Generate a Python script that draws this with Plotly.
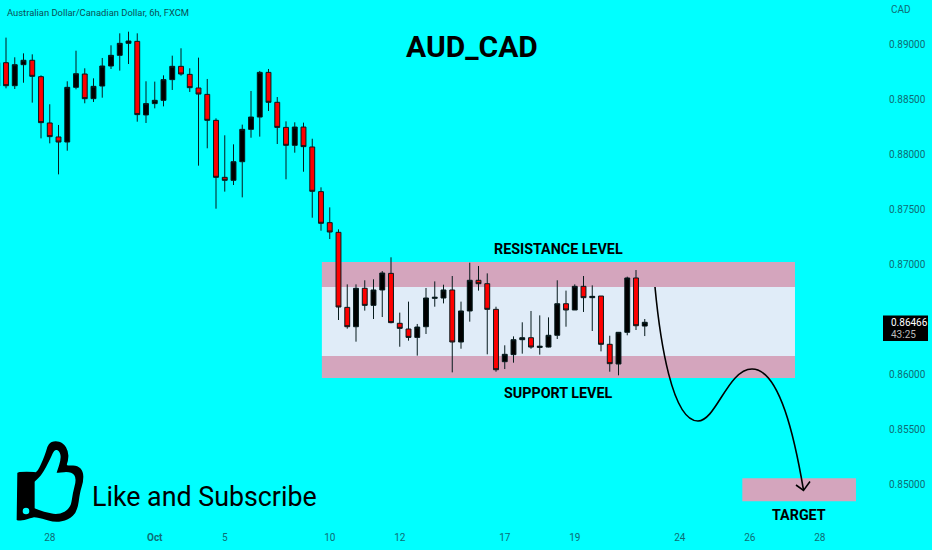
import plotly.graph_objects as go

opens = [.88618,.8883,.88621,.88812,.88852,.88703,.88282,.88155,.88109,.88606,.88727,.88503,.88618,.888,.88897,.89006,.89024,.88355,.88458,.88488,.88676,.88797,.88724,.886,.88542,.88306,.87788,.87761,.8793,.88224,.88336,.88742,.8847,.88242,.88079,.88245,.88064,.87658,.87376,.87288,.86606,.8643,.86779,.86624,.86764,.86915,.86461,.86409,.86333,.8643,.86688,.86691,.86764,.86291,.86573,.86852,.86821,.86588,.86112,.86176,.86312,.8633,.86242,.86245,.86352,.86639,.86582,.86797,.86694,.86709,.8627,.86091,.86379,.86873,.86436]
highs = [.88855,.89058,.88879,.88915,.88906,.88715,.88452,.88264,.88661,.88939,.88779,.88688,.88873,.88988,.89097,.89112,.89097,.88661,.88658,.88715,.88894,.88961,.88779,.88876,.88682,.88324,.8817,.88088,.88267,.88573,.88755,.88773,.88518,.88297,.88288,.88285,.88139,.87697,.87515,.87315,.86815,.86815,.86852,.86861,.86936,.87061,.86558,.86658,.86455,.86782,.86842,.86812,.86891,.86658,.87012,.86982,.86915,.86612,.86261,.86342,.8647,.86573,.86533,.86515,.86852,.86758,.86815,.86891,.86806,.86709,.86348,.86382,.86885,.86945,.865]
lows = [.88597,.88597,.88591,.88648,.88467,.88142,.88097,.87815,.8803,.88588,.88461,.88473,.88512,.88773,.88758,.88818,.88294,.88282,.88415,.88433,.88582,.88712,.88564,.87894,.88052,.87503,.87658,.87718,.87606,.88148,.88158,.88391,.88091,.8777,.88012,.87839,.87421,.87303,.87227,.86491,.86412,.86294,.86576,.865,.86518,.86461,.86248,.86303,.86167,.86364,.86612,.86642,.86015,.8623,.86476,.86758,.86179,.86021,.86045,.86103,.86185,.8623,.86176,.86242,.86318,.8643,.86582,.86564,.86391,.86206,.86021,.85988,.86352,.864,.86345]
closes = [.8883,.88621,.88812,.88852,.88706,.88285,.88158,.88109,.88606,.8873,.88503,.88615,.888,.88897,.89006,.89027,.88358,.88458,.88488,.88676,.88797,.88727,.88603,.88545,.88306,.87788,.87761,.8793,.88224,.88336,.88742,.8847,.88242,.88079,.88245,.88067,.87661,.8737,.87291,.86609,.8643,.86779,.86624,.86764,.86918,.86467,.86415,.86333,.86427,.86691,.86697,.86764,.86291,.86573,.86852,.86821,.86588,.86039,.86179,.86312,.8633,.86245,.86252,.86352,.86639,.86582,.86797,.86694,.86706,.8627,.86094,.86379,.86873,.86439,.8647]
bar_index = list(range(len(opens)))

x_tick_positions = [6, 18, 26, 38, 46, 58, 66, 78, 86, 94]
x_tick_labels = ["28", "<b>Oct</b>", "5", "10", "12", "17", "19", "24", "26", "28"]
y_tick_values = [0.85, 0.855, 0.86, 0.87, 0.875, 0.88, 0.885, 0.89]
y_tick_labels = ["0.85000", "0.85500", "0.86000", "0.87000", "0.87500", "0.88000", "0.88500", "0.89000"]

W, H = 932, 550
R, B = 44, 20
PW, PH = W - R, H - B
BG = "#00FFFF"
PINK = "#D4A5BD"
PALE = "#E0ECF8"
TEAL = "#0E6D75"
FONT = "Roboto"


def px(x):
    return x / PW


def py(y):
    return (PH - y) / PH


def smooth(points):
    """Closed quadratic B-spline through midpoints, given pixel points."""
    pts = [(px(a), py(b)) for a, b in points]
    n = len(pts)
    mid = lambda p, q: ((p[0] + q[0]) / 2, (p[1] + q[1]) / 2)
    s = mid(pts[-1], pts[0])
    d = f"M{s[0]:.5f},{s[1]:.5f}"
    for i in range(n):
        m = mid(pts[i], pts[(i + 1) % n])
        d += f" Q{pts[i][0]:.5f},{pts[i][1]:.5f} {m[0]:.5f},{m[1]:.5f}"
    return d + " Z"


def zoomed(points):
    return [(a / 3, 420 + b / 3) for a, b in points]


def pixel_path(cmds):
    out = []
    for c, coords in cmds:
        out.append(c + " ".join(f"{px(a):.5f},{py(b):.5f}" for a, b in coords))
    return " ".join(out)


fig = go.Figure(go.Candlestick(
    x=bar_index, open=opens, high=highs, low=lows, close=closes,
    increasing=dict(line=dict(color="#061A1C", width=1), fillcolor="#000000"),
    decreasing=dict(line=dict(color="#061A1C", width=1), fillcolor="#FF0000"),
    whiskerwidth=0, hoverinfo="skip", showlegend=False,
))

shapes = [
    dict(type="rect", layer="below", xref="x", yref="y", x0=37.1, x1=91.17, y0=0.86791, y1=0.87018, fillcolor=PINK, line_width=0),
    dict(type="rect", layer="below", xref="x", yref="y", x0=37.1, x1=91.17, y0=0.86164, y1=0.86791, fillcolor=PALE, line_width=0),
    dict(type="rect", layer="below", xref="x", yref="y", x0=37.1, x1=91.17, y0=0.85964, y1=0.86164, fillcolor=PINK, line_width=0),
    dict(type="rect", layer="below", xref="x", yref="y", x0=85.15, x1=98.14, y0=0.84843, y1=0.85052, fillcolor=PINK, line_width=0),
]
curve = pixel_path([("M", [(655, 287)]),
                    ("C", [(660, 340), (672, 421), (698, 421)]),
                    ("C", [(716, 421), (728, 369), (752, 369)]),
                    ("C", [(780, 369), (795, 440), (803.5, 490)])])
arrow = pixel_path([("M", [(796, 485)]), ("L", [(803.5, 490.5)]), ("L", [(810, 481.5)])])
for d in (curve, arrow):
    shapes.append(dict(type="path", xref="paper", yref="paper", path=d, line=dict(color="#000000", width=1.6)))

thumb_outer = zoomed([(52, 158), (52, 158), (60, 155), (100, 155), (112, 158), (135, 105), (145, 70), (165, 62), (190, 68), (206, 95), (204, 125), (198, 138), (232, 135), (250, 155), (250, 185), (240, 215), (232, 275), (205, 300), (165, 308), (125, 295), (102, 292), (102, 292), (60, 303), (50, 300), (50, 300)])
thumb_inner = zoomed([(104, 185), (104, 185), (125, 165), (152, 115), (163, 88), (178, 92), (184, 115), (170, 158), (170, 158), (215, 155), (230, 175), (218, 220), (212, 265), (175, 285), (130, 275), (104, 265), (104, 265)])
shapes.append(dict(type="path", xref="paper", yref="paper", path=smooth(thumb_outer), fillcolor="#000000", line_width=0))
shapes.append(dict(type="path", xref="paper", yref="paper", path=smooth(thumb_inner), fillcolor=BG, line_width=0))
shapes.append(dict(type="circle", xref="paper", yref="paper", x0=px(68 / 3), x1=px(88 / 3), y0=py(420 + 283 / 3), y1=py(420 + 263 / 3), fillcolor=BG, line_width=0))
shapes.append(dict(type="rect", xref="paper", yref="paper", x0=px(883), x1=px(928), y0=py(341), y1=py(315.5), fillcolor="#000000", line_width=0))


def label(text, x, y, size, color="#000000", anchor="center", family=FONT):
    return dict(text=text, x=px(x), y=py(y), xref="paper", yref="paper", xanchor=anchor, yanchor="middle",
                showarrow=False, font=dict(family=family, size=size, color=color))


annotations = [
    label("Australian Dollar/Canadian Dollar, 6h, FXCM", 5, 13, 9.4, "#0B4F55", "left"),
    label("<b>AUD_CAD</b>", 472, 47, 30),
    label("<b>RESISTANCE LEVEL</b>", 558, 249, 14.3),
    label("<b>SUPPORT LEVEL</b>", 558, 393, 14.3),
    label("<b>TARGET</b>", 799, 515, 14.3),
    label("Like and Subscribe", 90, 497, 26.8, anchor="left"),
    label("CAD", 889, 10, 10, TEAL, "left"),
    label("0.86466", 889, 322, 10, "#FFFFFF", "left"),
    label("43:25", 889, 334, 10, "#BBBBBB", "left"),
]

fig.update_layout(
    width=W, height=H, autosize=False,
    paper_bgcolor=BG, plot_bgcolor=BG,
    margin=dict(l=0, r=R, t=0, b=B),
    showlegend=False, shapes=shapes, annotations=annotations, boxgap=0.2,
    font=dict(family=FONT, color=TEAL, size=10),
    xaxis=dict(range=[0.314, 101.8], rangeslider=dict(visible=False), showgrid=False, zeroline=False, showline=False,
               tickmode="array", tickvals=x_tick_positions, ticktext=x_tick_labels, ticks="", tickfont=dict(family=FONT, size=10, color=TEAL)),
    yaxis=dict(range=[0.84582, 0.894], side="right", showgrid=False, zeroline=False, showline=False,
               tickmode="array", tickvals=y_tick_values, ticktext=y_tick_labels, ticks="", tickfont=dict(family=FONT, size=10, color=TEAL)),
)

fig.write_html("out.html", config=dict(displayModeBar=False),
               post_script="document.documentElement.style.background='#00FFFF';document.body.style.margin='0';document.body.style.overflow='hidden';")
